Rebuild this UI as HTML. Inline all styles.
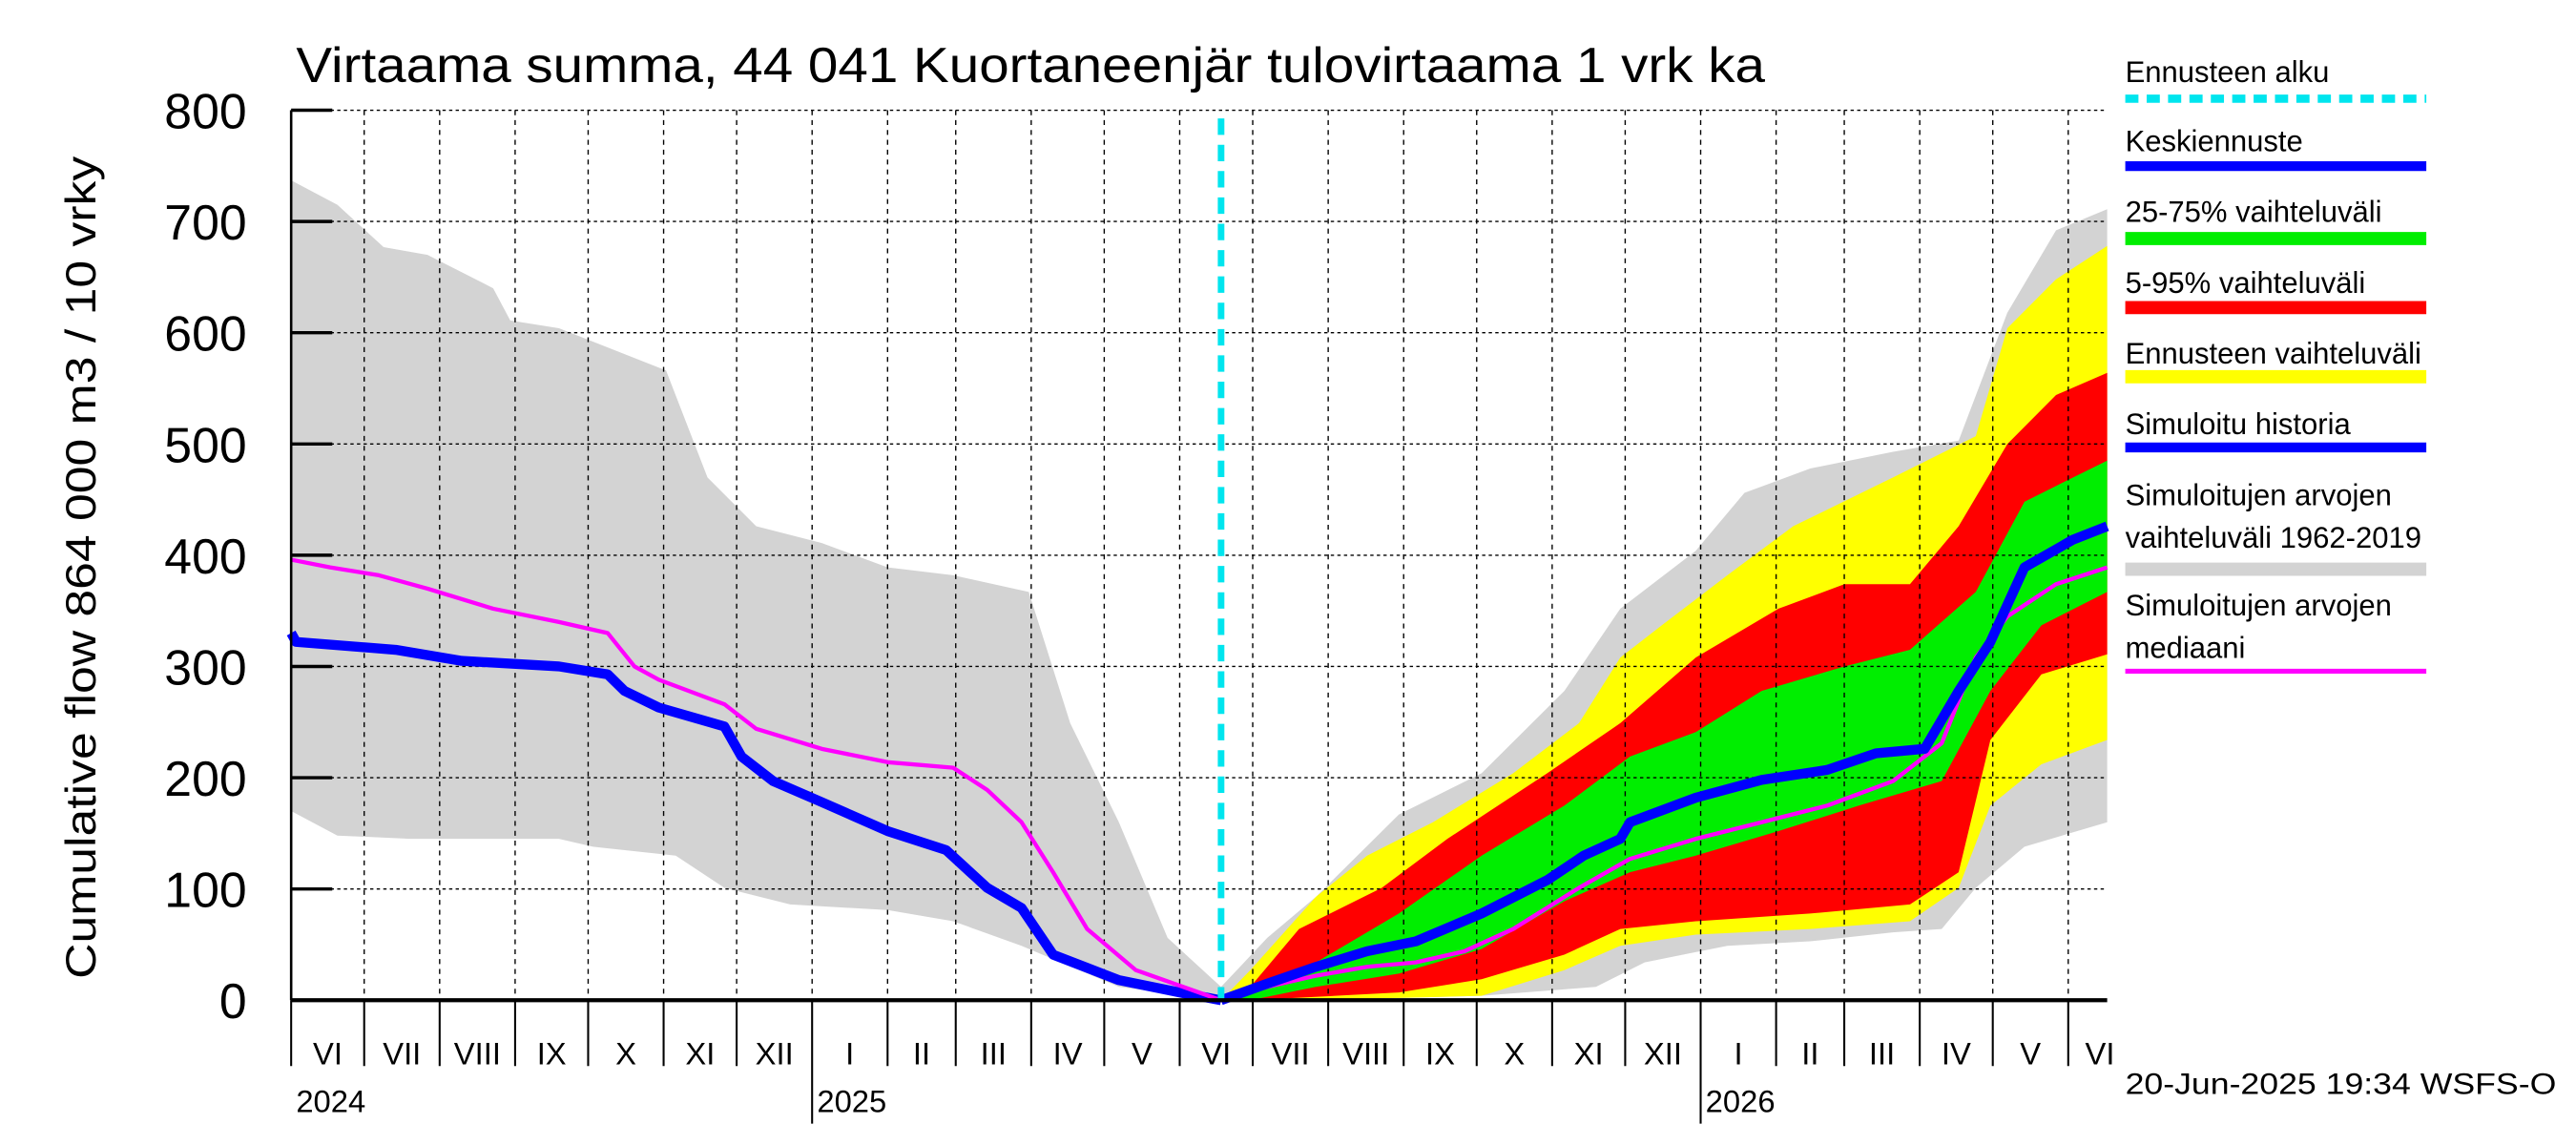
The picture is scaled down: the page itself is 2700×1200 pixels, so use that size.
<!DOCTYPE html>
<html><head><meta charset="utf-8">
<style>
html,body{margin:0;padding:0;background:#fff;}
svg{display:block;}
text{font-family:"Liberation Sans",sans-serif;fill:#000;}
</style></head>
<body>
<svg id="chart" width="2700" height="1200" viewBox="0 0 1566 696" preserveAspectRatio="none" xmlns="http://www.w3.org/2000/svg">
<g id="bands"></g>
<g id="grid"></g>
<g id="lines"></g>
<g id="axes"></g>
<text x="180" y="50" font-size="30" textLength="893" lengthAdjust="spacingAndGlyphs">Virtaama summa, 44 041 Kuortaneenjär tulovirtaama 1 vrk ka</text>
<text transform="translate(58,345) rotate(-90)" text-anchor="middle" font-size="26" textLength="500" lengthAdjust="spacingAndGlyphs">Cumulative flow    864 000 m3 / 10 vrky</text>
<text x="1292" y="665" font-size="18" textLength="262" lengthAdjust="spacingAndGlyphs">20-Jun-2025 19:34 WSFS-O</text>
<g id="legend"></g>
</svg>
<script>
// ---- data (days since 2024-06-01, values in 864 000 m3 / 10 vrky) ----
const greyDays = [0,19,38,56,83,90,110,154,171,191,218,245,272,303,320,340,360,382,401,421,455,489,523,546,577,597,624,658,685,705,725,746];
const greyUpper = [737,715,677,670,640,611,604,566,470,426,411,389,382,367,249,160,56,12,56,93,167,204,278,352,404,456,478,493,503,618,692,711];
const greyLowDays = [0,19,49,110,124,158,178,205,245,272,300,340,382,421,489,536,556,590,624,658,678,692,712,746];
const greyLower = [170,148,145,145,138,130,101,86,81,71,49,12,0,0,4,12,34,49,53,61,64,101,138,160];
const yelUpDays = [382,394,421,442,469,502,529,546,563,590,617,658,692,705,725,746];
const yelUpper = [0,27,93,130,160,204,249,308,337,382,426,470,507,604,648,678];
const yelLowDays = [382,394,455,489,523,546,577,624,665,685,698,719,746];
const yelLower = [0,0,2,4,27,49,59,64,71,101,175,212,234];
const redUpDays = [382,394,414,448,475,516,546,577,611,638,665,685,705,725,746];
const redUpper = [0,12,64,101,145,204,249,308,352,374,374,426,500,544,564];
const redLowDays = [382,394,455,489,523,546,577,624,665,685,698,719,746];
const redLower = [0,0,7,19,41,64,71,78,86,115,234,293,311];
const grnUpDays = [382,394,421,455,489,523,550,577,604,638,665,692,712,732,746];
const grnUpper = [0,7,34,78,130,175,219,241,278,300,315,367,448,470,485];
const grnLowDays = [382,394,421,455,489,523,550,577,611,644,678,698,719,746];
const grnLower = [0,0,12,24,46,89,115,130,152,175,197,278,337,367];
const histDays = [0,2,43,70,110,130,137,151,178,185,198,218,245,269,286,300,313,340,367,382];
const histMean = [330,322,315,305,300,293,278,263,246,219,197,178,152,135,101,83,41,18,6,0];
const fcDays = [382,401,421,442,462,489,516,531,546,550,577,604,631,651,671,685,698,712,732,746];
const fcMean = [0,15,30,44,53,78,108,130,145,160,182,198,207,222,226,278,322,389,414,426];
const medDays = [0,16,36,56,83,110,130,141,151,178,191,218,245,272,286,300,313,327,347,382,401,421,442,462,482,502,529,550,577,604,631,658,678,692,705,725,746];
const medVal = [396,389,382,370,352,340,330,300,288,266,244,226,214,209,189,160,115,64,27,0,12,22,30,34,44,64,101,127,145,160,175,197,231,308,345,374,389];
const yTicks = [0,100,200,300,400,500,600,700,800];
const monthLabels = ["VI","VII","VIII","IX","X","XI","XII","I","II","III","IV","V","VI","VII","VIII","IX","X","XI","XII","I","II","III","IV","V","VI"];
const monthStarts = [0,30,61,92,122,153,183,214,245,273,304,334,365,395,426,457,487,518,548,579,610,638,669,699,730];
const yearLabels = ["2024","2025","2026"];
const yearDays = [0,214,579];
const forecastStart = 382;

const NS="http://www.w3.org/2000/svg";
const X0=177,X1=1281,Y0=608,Y1=67,DMAX=746;
const xs=d=>X0+d*(X1-X0)/DMAX;
const ys=v=>Y0-v*(Y0-Y1)/800;
function mk(tag,attrs,parent){const e=document.createElementNS(NS,tag);for(const k in attrs)e.setAttribute(k,attrs[k]);parent.appendChild(e);return e;}
function bandPath(ud,uv,ld,lv){let p=ud.map((d,i)=>(i?'L':'M')+xs(d).toFixed(1)+','+ys(uv[i]).toFixed(1)).join('');for(let i=ld.length-1;i>=0;i--)p+='L'+xs(ld[i]).toFixed(1)+','+ys(lv[i]).toFixed(1);return p+'Z';}
function linePath(dd,vv){return dd.map((d,i)=>(i?'L':'M')+xs(d).toFixed(1)+','+ys(vv[i]).toFixed(1)).join('');}
const bands=document.getElementById('bands'),grid=document.getElementById('grid'),lines=document.getElementById('lines'),axes=document.getElementById('axes'),legend=document.getElementById('legend');

let e;
e=mk('path',{d:bandPath(greyDays,greyUpper,greyLowDays,greyLower),fill:'#d3d3d3'},bands);


e=mk('path',{d:bandPath(yelUpDays,yelUpper,yelLowDays,yelLower),fill:'#ffff00'},bands);


e=mk('path',{d:bandPath(redUpDays,redUpper,redLowDays,redLower),fill:'#ff0000'},bands);


e=mk('path',{d:bandPath(grnUpDays,grnUpper,grnLowDays,grnLower),fill:'#00ee00'},bands);



yTicks.forEach(v=>{
  if(v>0){e=mk('line',{x1:X0,x2:X1,y1:ys(v),y2:ys(v),stroke:'#000','stroke-width':0.8,'stroke-dasharray':'2,2'},grid);
  
  }
  e=mk('line',{x1:X0,x2:X0+25,y1:ys(v),y2:ys(v),stroke:'#000','stroke-width':2},axes);
  
  
  e=mk('text',{x:150,y:ys(v)+11,'text-anchor':'end','font-size':30},axes);
  e.textContent=v;
  
  
});
monthStarts.forEach((d,i)=>{
  if(d>0){e=mk('line',{x1:xs(d),x2:xs(d),y1:Y1,y2:Y0,stroke:'#000','stroke-width':0.8,'stroke-dasharray':'3,3'},grid);
  
  }
  const yr=yearDays.indexOf(d)>0;
  e=mk('line',{x1:xs(d),x2:xs(d),y1:Y0,y2:yr?683:648,stroke:'#000','stroke-width':1.2},axes);
  
  
  const nd=i+1<monthStarts.length?monthStarts[i+1]:DMAX+10;
  e=mk('text',{x:(xs(d)+xs(Math.min(nd,DMAX+10)))/2,y:647,'text-anchor':'middle','font-size':19},axes);
  e.textContent=monthLabels[i];
  
  
});
yearLabels.forEach((t,i)=>{
  e=mk('text',{x:xs(yearDays[i])+3,y:676,'font-size':19},axes);
  e.textContent=t;
  
  
});
e=mk('line',{x1:X0,x2:X0,y1:Y1,y2:Y0,stroke:'#000','stroke-width':1.5},axes);


e=mk('line',{x1:X0,x2:X1,y1:Y0,y2:Y0,stroke:'#000','stroke-width':2.5},axes);



e=mk('path',{d:linePath(histDays,histMean),fill:'none',stroke:'#0000ff','stroke-width':6,'stroke-linejoin':'round'},lines);


e=mk('path',{d:linePath(medDays,medVal),fill:'none',stroke:'#ff00ff','stroke-width':2.5,'stroke-linejoin':'round'},lines);


e=mk('path',{d:linePath(fcDays,fcMean),fill:'none',stroke:'#0000ff','stroke-width':6,'stroke-linejoin':'round'},lines);


e=mk('line',{x1:xs(forecastStart),x2:xs(forecastStart),y1:72,y2:Y0,stroke:'#00e5ee','stroke-width':4,'stroke-dasharray':'10,6'},lines);



const legTexts=[["Ennusteen alku"],["Keskiennuste"],["25-75% vaihteluväli"],["5-95% vaihteluväli"],["Ennusteen vaihteluväli"],["Simuloitu historia"],["Simuloitujen arvojen","vaihteluväli 1962-2019"],["Simuloitujen arvojen","mediaani"]];
const legTextY=[50,92,135,178,221,264,307,374];
const legLineY=[60,101,145,187,229,272,346,408];
const legColors=['#00e5ee','#0000ff','#00ee00','#ff0000','#ffff00','#0000ff','#d3d3d3','#ff00ff'];
const legWidths=[5,6,8,8,8,6,8,3];
legTexts.forEach((arr,i)=>{
  arr.forEach((t,j)=>{
    e=mk('text',{x:1292,y:legTextY[i]+j*26,'font-size':18},legend);
    e.textContent=t;
    
    
  });
  const a={x1:1292,x2:1475,y1:legLineY[i],y2:legLineY[i],stroke:legColors[i],'stroke-width':legWidths[i]};
  if(i===0)a['stroke-dasharray']='8,5';
  e=mk('line',a,legend);
  
  
});
</script>
</body></html>
